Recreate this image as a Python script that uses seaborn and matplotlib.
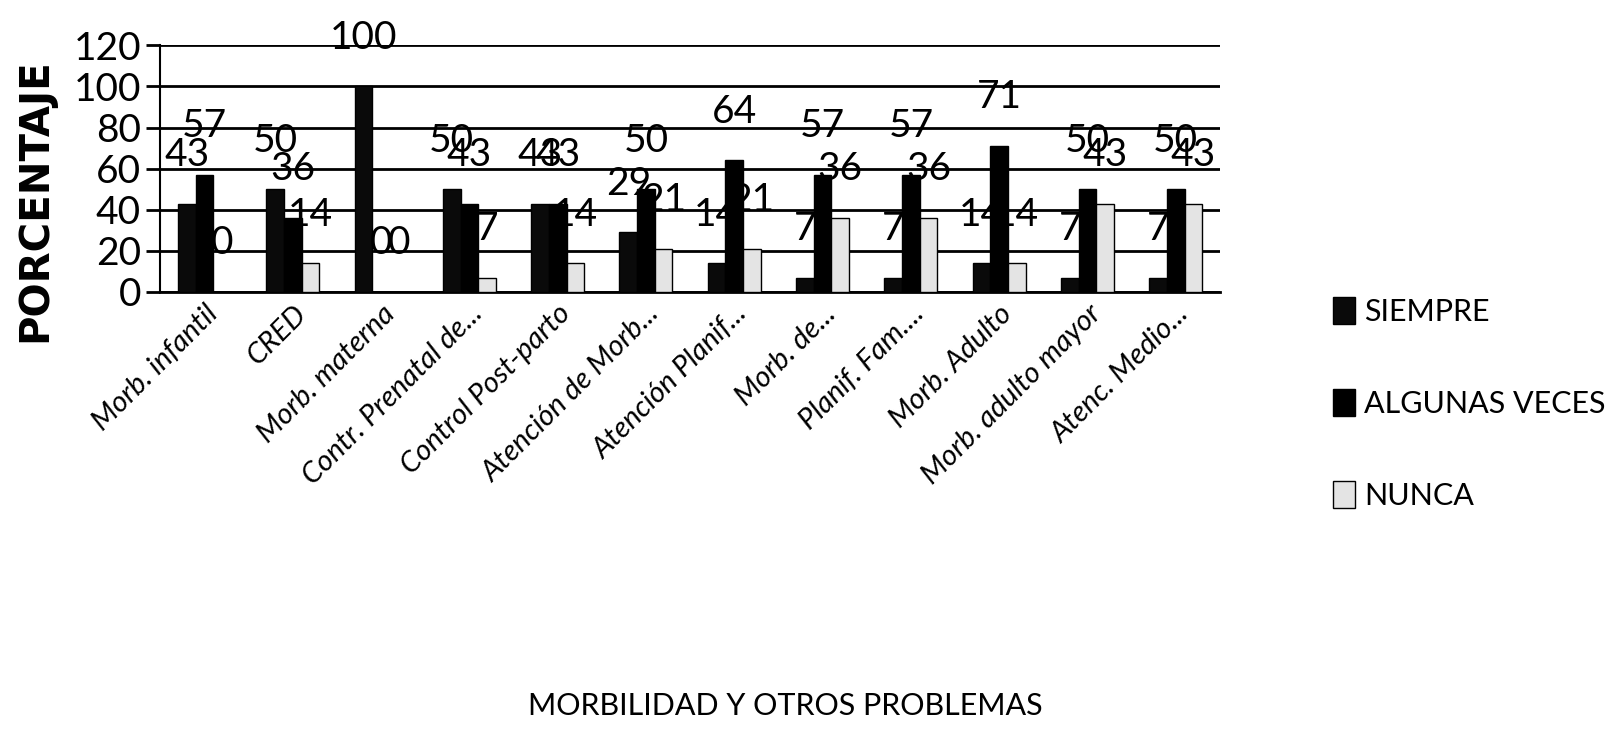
#!/usr/bin/env python3

import pandas as pd
from matplotlib import pyplot as plt
import seaborn as sns


categories = [
    "Morb. infantil",
    "CRED",
    "Morb. materna",
    "Contr. Prenatal de...",
    "Control Post-parto",
    "Atención de Morb...",
    "Atención Planif...",
    "Morb. de...",
    "Planif. Fam....",
    "Morb. Adulto",
    "Morb. adulto mayor",
    "Atenc. Medio...",
]
siempre = [43, 50, 100, 50, 43, 29, 14, 7, 7, 14, 7, 7]
algunas_veces = [57, 36, 0, 43, 43, 50, 64, 57, 57, 71, 50, 50]
nunca = [0, 14, 0, 7, 14, 21, 21, 36, 36, 14, 43, 43]
series_names = ["SIEMPRE", "ALGUNAS VECES", "NUNCA"]
y_ticks = [0, 20, 40, 60, 80, 100, 120]

cat_title = "MORBILIDAD Y OTROS PROBLEMAS"
val_title = "PORCENTAJE"
serie_title = "Serie"


def build_df():
    rows = {cat_title: [], val_title: [], serie_title: []}
    for name, values in zip(series_names, [siempre, algunas_veces, nunca]):
        for cat, v in zip(categories, values):
            rows[cat_title].append(cat)
            rows[val_title].append(v)
            rows[serie_title].append(name)
    return pd.DataFrame(rows)


def gen_fig():
    sns.set_theme(style="white")
    plt.rcParams["font.family"] = ["Lato", "DejaVu Sans"]
    plt.rcParams["text.color"] = "black"
    plt.rcParams["xtick.color"] = "black"
    plt.rcParams["ytick.color"] = "black"

    df = build_df()
    fig = plt.figure(figsize=(16.2, 7.43), dpi=100)
    ax = fig.add_axes([0.099, 0.607, 0.654, 0.332])

    sns.barplot(
        data=df,
        x=cat_title,
        y=val_title,
        hue=serie_title,
        order=categories,
        hue_order=series_names,
        palette=["#0a0a0a", "#000000", "#e4e4e4"],
        width=0.6,
        edgecolor="black",
        linewidth=1,
        ax=ax,
        legend=True,
        zorder=3,
    )

    for cont in ax.containers:
        ax.bar_label(cont, fmt="%d", padding=22, fontsize=28, color="black")

    ax.set_ylim(0, 120)
    ax.set_yticks(y_ticks)
    ax.set_yticklabels([str(t) for t in y_ticks], fontsize=28)
    ax.yaxis.grid(True, color="black", linewidth=2)
    ax.set_axisbelow(True)
    ax.tick_params(axis="y", length=10, width=2, color="black", pad=4, left=True)
    ax.tick_params(axis="x", length=0, pad=6)
    for lab in ax.get_xticklabels():
        lab.set_rotation(45)
        lab.set_ha("right")
        lab.set_rotation_mode("anchor")
        lab.set_fontstyle("italic")
        lab.set_fontsize(21)
    for side in ["top", "right"]:
        ax.spines[side].set_visible(False)
    ax.spines["left"].set_color("black")
    ax.spines["left"].set_linewidth(1.5)
    ax.spines["bottom"].set_color("black")
    ax.spines["bottom"].set_linewidth(2)

    ax.set_xlabel("")
    ax.set_ylabel("")
    fig.text(0.022, 0.731, val_title, rotation=90, ha="center", va="center",
             fontsize=29, fontweight="bold", family=["DejaVu Sans"])
    fig.text(0.485, 0.05, cat_title, ha="center", va="center", fontsize=22)

    handles, labels = ax.get_legend_handles_labels()
    ax.legend(
        handles,
        labels,
        loc="center left",
        bbox_to_anchor=(0.806, 0.457),
        bbox_transform=fig.transFigure,
        frameon=False,
        fontsize=22,
        handlelength=0.7,
        handleheight=1.0,
        handletextpad=0.3,
        labelspacing=2.05,
    )

    fig.savefig("out.png", dpi=100)


if __name__ == "__main__":
    gen_fig()
